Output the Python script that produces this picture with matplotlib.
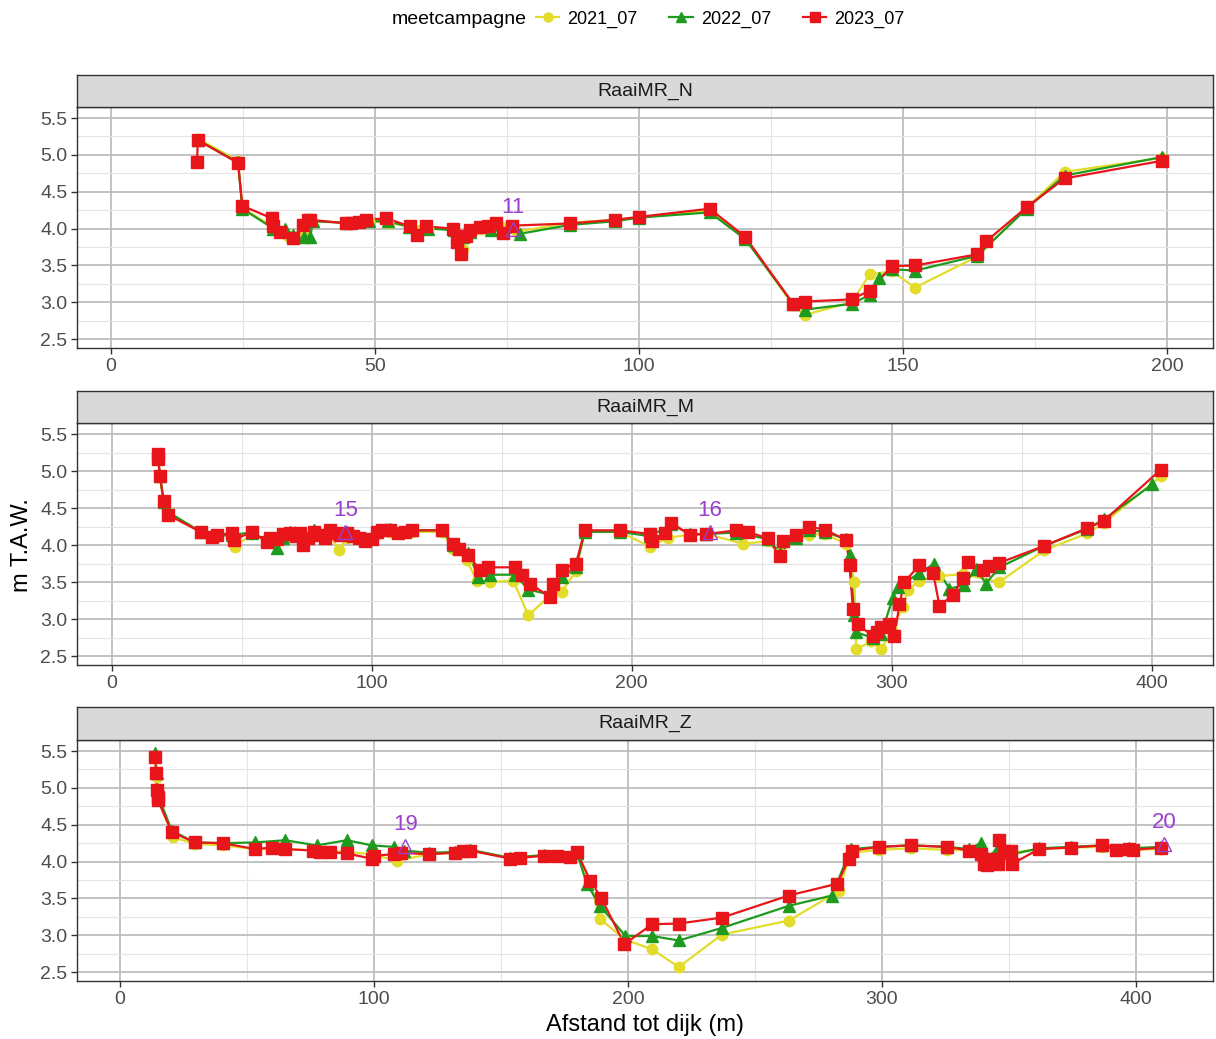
import matplotlib
matplotlib.use("Agg")
import matplotlib.pyplot as plt
from matplotlib.lines import Line2D
from matplotlib.ticker import MultipleLocator, FormatStrFormatter

plt.rcParams["font.family"] = ["Liberation Sans", "DejaVu Sans"]

# ---------------- data ----------------
campaigns = ["2021_07", "2022_07", "2023_07"]
panel_names = ["RaaiMR_N", "RaaiMR_M", "RaaiMR_Z"]

# RaaiMR_N
n_2021_x = [16.5, 24.1, 24.9, 30.8, 33.5, 34.5, 36.5, 37.8, 44.5, 48.8, 52.5, 56.5, 58.5, 60.0, 65.0,
            66.2, 66.6, 67.2, 70.0, 74.0, 77.0, 86.9, 95.5, 100.1, 113.4, 120.1, 129.2, 131.4, 140.3,
            143.7, 147.9, 152.3, 164.0, 173.4, 180.6, 199.0]
n_2021_y = [5.22, 4.92, 4.28, 4.02, 3.90, 3.86, 3.96, 4.10, 4.08, 4.10, 4.08, 4.04, 3.98, 4.00, 4.00,
            3.85, 3.72, 3.92, 4.00, 4.02, 3.96, 4.08, 4.12, 4.15, 4.25, 3.88, 2.96, 2.83, 3.00,
            3.38, 3.42, 3.20, 3.62, 4.28, 4.77, 4.96]
n_2022_x = [16.5, 24.1, 24.9, 30.8, 33.0, 34.5, 36.5, 37.8, 38.2, 44.5, 48.8, 52.5, 56.5, 60.0, 65.0,
            66.6, 68.0, 72.0, 77.5, 86.9, 95.5, 100.1, 113.4, 120.1, 129.2, 131.4, 140.3, 143.7,
            145.5, 147.9, 152.3, 164.0, 173.4, 180.6, 199.0]
n_2022_y = [5.20, 4.90, 4.27, 4.00, 4.00, 3.92, 3.88, 3.88, 4.10, 4.08, 4.10, 4.10, 4.02, 4.00, 3.98,
            3.88, 3.95, 3.98, 3.93, 4.05, 4.10, 4.15, 4.22, 3.86, 2.98, 2.90, 2.98, 3.10,
            3.33, 3.45, 3.43, 3.63, 4.27, 4.72, 4.97]
n_2023_x = [16.3, 16.5, 24.1, 24.9, 30.5, 30.8, 32.0, 34.5, 36.4, 37.4, 37.8, 44.6, 45.5, 47.0, 48.4,
            52.2, 56.6, 58.0, 59.7, 64.8, 65.5, 66.4, 67.2, 68.0, 70.0, 71.5, 73.0, 74.3, 75.9,
            86.9, 95.5, 100.1, 113.4, 120.1, 129.2, 131.4, 140.3, 143.7, 147.9, 152.3, 164.0,
            165.8, 173.4, 180.6, 199.0]
n_2023_y = [4.91, 5.20, 4.89, 4.31, 4.14, 4.03, 3.96, 3.87, 4.05, 4.12, 4.12, 4.07, 4.07, 4.09, 4.12,
            4.14, 4.03, 3.91, 4.03, 4.00, 3.82, 3.66, 3.90, 3.98, 4.02, 4.03, 4.07, 3.94, 4.04,
            4.07, 4.12, 4.16, 4.27, 3.89, 2.98, 3.01, 3.04, 3.16, 3.49, 3.50, 3.65,
            3.83, 4.29, 4.68, 4.92]

# RaaiMR_M
m_2021_x = [17.9, 18.6, 20.1, 21.6, 34.2, 38.7, 46.4, 47.6, 54.0, 59.8, 63.5, 68.7, 73.8, 77.7, 84.1,
            87.3, 90.5, 97.5, 102.0, 107.0, 115.5, 127.0, 131.5, 136.6, 140.4, 145.6, 154.5, 160.3,
            168.6, 173.1, 178.6, 182.0, 195.5, 207.0, 214.0, 222.4, 228.8, 242.8, 252.4, 257.0,
            263.3, 268.4, 274.2, 282.5, 285.7, 286.4, 292.1, 296.0, 300.0, 304.3, 306.2, 310.7,
            318.4, 327.3, 341.4, 358.7, 375.3, 381.7, 403.5]
m_2021_y = [5.20, 4.93, 4.55, 4.45, 4.18, 4.12, 4.14, 3.98, 4.15, 4.05, 4.10, 4.12, 4.05, 4.12, 4.15,
            3.93, 4.10, 4.05, 4.15, 4.18, 4.18, 4.18, 3.95, 3.80, 3.52, 3.50, 3.52, 3.05,
            3.32, 3.37, 3.65, 4.18, 4.18, 3.98, 4.10, 4.14, 4.15, 4.02, 4.05, 3.90,
            4.08, 4.14, 4.15, 4.02, 3.50, 2.59, 2.70, 2.59, 2.85, 3.16, 3.39, 3.52,
            3.58, 3.61, 3.50, 3.93, 4.16, 4.30, 4.93]
m_2022_x = [17.9, 18.6, 20.1, 21.6, 34.2, 38.7, 46.4, 54.0, 59.8, 63.6, 66.0, 68.7, 73.8, 77.7, 84.1,
            87.9, 90.5, 97.5, 102.0, 107.0, 115.5, 127.0, 131.5, 137.2, 141.0, 145.6, 155.1, 160.3,
            168.6, 173.1, 178.6, 182.0, 195.5, 207.0, 215.3, 222.4, 228.8, 240.3, 252.4, 257.0,
            263.3, 268.2, 274.2, 282.5, 283.8, 285.7, 286.4, 292.7, 296.0, 300.4, 302.4, 310.7,
            316.4, 322.2, 327.9, 332.4, 336.3, 341.4, 358.7, 375.3, 381.7, 400.3]
m_2022_y = [5.18, 4.93, 4.58, 4.45, 4.18, 4.12, 4.14, 4.17, 4.06, 3.96, 4.10, 4.18, 4.10, 4.20, 4.18,
            4.15, 4.18, 4.10, 4.20, 4.22, 4.20, 4.20, 4.00, 3.90, 3.57, 3.60, 3.60, 3.40,
            3.33, 3.57, 3.70, 4.18, 4.18, 4.12, 4.28, 4.15, 4.15, 4.17, 4.08, 3.90,
            4.10, 4.20, 4.18, 4.08, 3.87, 3.05, 2.82, 2.75, 2.80, 3.28, 3.44, 3.62,
            3.75, 3.41, 3.46, 3.68, 3.48, 3.70, 3.99, 4.22, 4.35, 4.82]
m_2023_x = [17.9, 17.9, 18.6, 20.1, 21.6, 34.2, 38.7, 40.6, 46.4, 47.0, 54.0, 59.8, 61.0, 63.5, 66.0,
            68.7, 71.0, 72.5, 73.8, 75.5, 77.7, 80.3, 82.0, 84.1, 86.0, 87.9, 90.5, 93.0, 95.0,
            97.5, 100.0, 102.0, 104.0, 107.0, 110.0, 112.9, 115.5, 127.0, 131.5, 133.5, 137.2,
            141.7, 144.9, 155.1, 157.7, 160.9, 168.6, 169.9, 173.1, 178.6, 182.0, 195.5, 207.0,
            208.0, 213.0, 215.3, 222.4, 228.8, 240.3, 244.7, 252.4, 257.0, 258.2, 263.3, 268.2,
            274.2, 282.5, 283.8, 285.1, 287.0, 292.7, 294.5, 296.0, 299.0, 301.1, 303.0, 304.9,
            310.7, 316.0, 318.4, 323.5, 327.3, 329.2, 335.0, 337.6, 341.4, 358.7, 375.3, 381.7,
            403.5]
m_2023_y = [5.23, 5.16, 4.93, 4.59, 4.41, 4.18, 4.11, 4.14, 4.16, 4.07, 4.18, 4.04, 4.10, 4.08, 4.15,
            4.16, 4.12, 4.16, 4.00, 4.10, 4.18, 4.14, 4.10, 4.20, 4.16, 4.14, 4.16, 4.12, 4.10,
            4.05, 4.08, 4.18, 4.20, 4.20, 4.17, 4.18, 4.20, 4.20, 4.02, 3.95, 3.87,
            3.66, 3.70, 3.70, 3.60, 3.48, 3.30, 3.47, 3.67, 3.75, 4.20, 4.20, 4.15,
            4.06, 4.16, 4.30, 4.14, 4.15, 4.20, 4.18, 4.09, 3.85, 4.05, 4.13, 4.25,
            4.21, 4.07, 3.73, 3.14, 2.93, 2.77, 2.82, 2.89, 2.93, 2.77, 3.20, 3.50,
            3.73, 3.62, 3.18, 3.32, 3.55, 3.77, 3.66, 3.72, 3.76, 3.99, 4.23, 4.33,
            5.02]

# RaaiMR_Z
z_2021_x = [13.8, 14.5, 15.0, 21.0, 29.5, 40.7, 53.2, 65.0, 78.8, 89.3, 99.2, 109.0, 121.5, 132.0,
            137.9, 153.7, 166.8, 179.9, 185.2, 189.0, 199.0, 209.5, 220.0, 237.0, 263.3, 283.0,
            287.6, 298.8, 311.3, 325.7, 334.2, 340.2, 345.5, 351.3, 361.8, 374.3, 386.8, 397.3,
            409.8]
z_2021_y = [5.40, 5.15, 4.85, 4.33, 4.24, 4.22, 4.17, 4.17, 4.15, 4.13, 4.10, 4.01, 4.10, 4.12,
            4.15, 4.05, 4.08, 4.12, 3.70, 3.22, 2.94, 2.81, 2.57, 3.01, 3.20, 3.60,
            4.12, 4.16, 4.18, 4.16, 4.15, 4.05, 4.12, 4.12, 4.17, 4.19, 4.20, 4.16,
            4.17]
z_2022_x = [13.8, 14.5, 15.0, 20.4, 29.5, 40.7, 53.2, 65.0, 77.5, 89.3, 99.2, 107.7, 112.0, 121.5,
            132.0, 137.9, 153.7, 166.8, 179.9, 183.8, 189.0, 199.0, 209.5, 220.0, 237.0, 263.3,
            280.4, 287.6, 298.8, 311.3, 325.7, 334.2, 338.8, 341.5, 345.5, 348.0, 351.3, 361.8,
            374.3, 386.8, 397.3, 409.8]
z_2022_y = [5.47, 5.20, 4.90, 4.42, 4.26, 4.25, 4.26, 4.29, 4.22, 4.29, 4.22, 4.20, 4.15, 4.12,
            4.13, 4.16, 4.05, 4.09, 4.12, 3.70, 3.40, 2.99, 2.99, 2.93, 3.10, 3.40,
            3.54, 4.17, 4.20, 4.22, 4.20, 4.17, 4.25, 4.05, 4.18, 4.12, 4.10, 4.18,
            4.20, 4.22, 4.18, 4.20]
z_2023_x = [13.8, 14.2, 14.5, 14.8, 15.0, 20.4, 29.5, 40.7, 53.2, 59.8, 65.0, 76.0, 78.8, 82.7,
            89.3, 99.2, 100.0, 107.7, 110.5, 121.5, 132.0, 135.0, 137.9, 153.7, 157.6, 166.8,
            172.0, 177.3, 179.9, 185.2, 189.4, 198.6, 209.5, 220.0, 237.0, 263.3, 282.4, 287.0,
            288.3, 298.8, 311.3, 325.7, 334.2, 338.8, 340.2, 341.5, 342.8, 345.5, 346.1, 348.0,
            350.7, 351.3, 361.8, 374.3, 386.8, 392.0, 397.3, 399.0, 409.8]
z_2023_y = [5.42, 5.20, 4.97, 4.88, 4.83, 4.40, 4.26, 4.25, 4.17, 4.19, 4.17, 4.15, 4.13, 4.13,
            4.11, 4.04, 4.08, 4.10, 4.12, 4.10, 4.12, 4.15, 4.15, 4.04, 4.05, 4.08,
            4.08, 4.06, 4.13, 3.74, 3.51, 2.88, 3.15, 3.16, 3.24, 3.54, 3.70, 4.04,
            4.15, 4.20, 4.22, 4.20, 4.15, 4.10, 3.97, 3.95, 4.04, 3.97, 4.29, 4.15,
            4.15, 3.97, 4.17, 4.19, 4.22, 4.16, 4.17, 4.16, 4.19]

# numbered reference points per transect
n_ref_x, n_ref_y, n_ref_label = [76.2], [4.00], ["11"]
m_ref_x, m_ref_y, m_ref_label = [89.9, 230.0], [4.18, 4.18], ["15", "16"]
z_ref_x, z_ref_y, z_ref_label = [112.3, 411.1], [4.21, 4.24], ["19", "20"]

# ---------------- styling ----------------
colors = {"2021_07": "#E3DC2A", "2022_07": "#1E9A1E", "2023_07": "#E8161B"}
markers = {"2021_07": "o", "2022_07": "^", "2023_07": "s"}
msizes = {"2021_07": 7.5, "2022_07": 8.0, "2023_07": 8.0}
ref_color = "#9A3FD0"

W, H = 1216, 1039
fig = plt.figure(figsize=(W / 100, H / 100), dpi=100)


def fx(px):
    return px / W


def fy(py):
    return 1 - py / H


panels = [
    dict(name=panel_names[0],
         series={"2021_07": (n_2021_x, n_2021_y), "2022_07": (n_2022_x, n_2022_y),
                 "2023_07": (n_2023_x, n_2023_y)},
         refs=(n_ref_x, n_ref_y, n_ref_label),
         xlim=(-6.4, 208.7), major=50, minor=25, top=107, bottom=348, strip_top=75),
    dict(name=panel_names[1],
         series={"2021_07": (m_2021_x, m_2021_y), "2022_07": (m_2022_x, m_2022_y),
                 "2023_07": (m_2023_x, m_2023_y)},
         refs=(m_ref_x, m_ref_y, m_ref_label),
         xlim=(-13.3, 423.6), major=100, minor=50, top=423, bottom=665, strip_top=391),
    dict(name=panel_names[2],
         series={"2021_07": (z_2021_x, z_2021_y), "2022_07": (z_2022_x, z_2022_y),
                 "2023_07": (z_2023_x, z_2023_y)},
         refs=(z_ref_x, z_ref_y, z_ref_label),
         xlim=(-16.9, 430.3), major=100, minor=50, top=740, bottom=981, strip_top=707),
]

left_px, right_px = 77, 1213
edge = "#333333"

for p in panels:
    ax = fig.add_axes([fx(left_px), fy(p["bottom"]), (right_px - left_px) / W,
                       (p["bottom"] - p["top"]) / H])
    ax.set_facecolor("white")
    ax.set_xlim(*p["xlim"])
    ax.set_ylim(2.38, 5.65)
    ax.xaxis.set_major_locator(MultipleLocator(p["major"]))
    ax.xaxis.set_minor_locator(MultipleLocator(p["minor"]))
    ax.yaxis.set_major_locator(MultipleLocator(0.5))
    ax.yaxis.set_minor_locator(MultipleLocator(0.25))
    ax.yaxis.set_major_formatter(FormatStrFormatter("%.1f"))
    ax.grid(which="major", color="#BDBDBD", lw=1.3, zorder=0)
    ax.grid(which="minor", color="#E4E4E4", lw=0.8, zorder=0)
    ax.set_axisbelow(True)
    for s in ax.spines.values():
        s.set_color(edge)
        s.set_linewidth(1.0)
    ax.tick_params(which="major", direction="out", length=4, width=1, color=edge,
                   labelcolor="#4D4D4D", labelsize=14, pad=3)
    ax.tick_params(which="minor", length=0)

    # lines first, then points on top
    for i, c in enumerate(campaigns):
        xs, ys = p["series"][c]
        ax.plot(xs, ys, color=colors[c], lw=1.6, zorder=2 + i)
    for i, c in enumerate(campaigns):
        xs, ys = p["series"][c]
        ax.plot(xs, ys, ls="none", marker=markers[c], ms=msizes[c],
                color=colors[c], mec=colors[c], zorder=5 + i)

    rx, ry, rl = p["refs"]
    ax.plot(rx, ry, ls="none", marker="^", ms=10, mfc="none", mec=ref_color,
            mew=1.0, zorder=9)
    for x, y, t in zip(rx, ry, rl):
        ax.text(x, y + 0.29, t, color=ref_color, fontsize=16, ha="center",
                va="center", zorder=10)

    # facet strip
    sax = fig.add_axes([fx(left_px), fy(p["top"]), (right_px - left_px) / W,
                        (p["top"] - p["strip_top"]) / H])
    sax.set_facecolor("#D9D9D9")
    sax.set_xticks([])
    sax.set_yticks([])
    for s in sax.spines.values():
        s.set_color(edge)
        s.set_linewidth(1.0)
    sax.text(0.5, 0.5, p["name"], transform=sax.transAxes, ha="center", va="center",
             fontsize=14, color="#1A1A1A")

fig.text(fx(22), fy(545), "m T.A.W.", rotation=90, ha="center", va="center", fontsize=17)
fig.text(fx(645), fy(1025), "Afstand tot dijk (m)", ha="center", va="center", fontsize=17)

# legend across the top
fig.text(fx(392), fy(19), "meetcampagne", ha="left", va="center", fontsize=14)
handles = [Line2D([], [], color=colors[c], marker=markers[c], ms=msizes[c] - 1, lw=1.6)
           for c in campaigns]
fig.legend(handles, campaigns, loc="center left", bbox_to_anchor=(fx(536), fy(19)),
           ncol=3, frameon=False, fontsize=13, handlelength=1.3, handletextpad=0.45,
           columnspacing=1.75, borderaxespad=0, borderpad=0)

fig.savefig("out.png", dpi=100, facecolor="white")
